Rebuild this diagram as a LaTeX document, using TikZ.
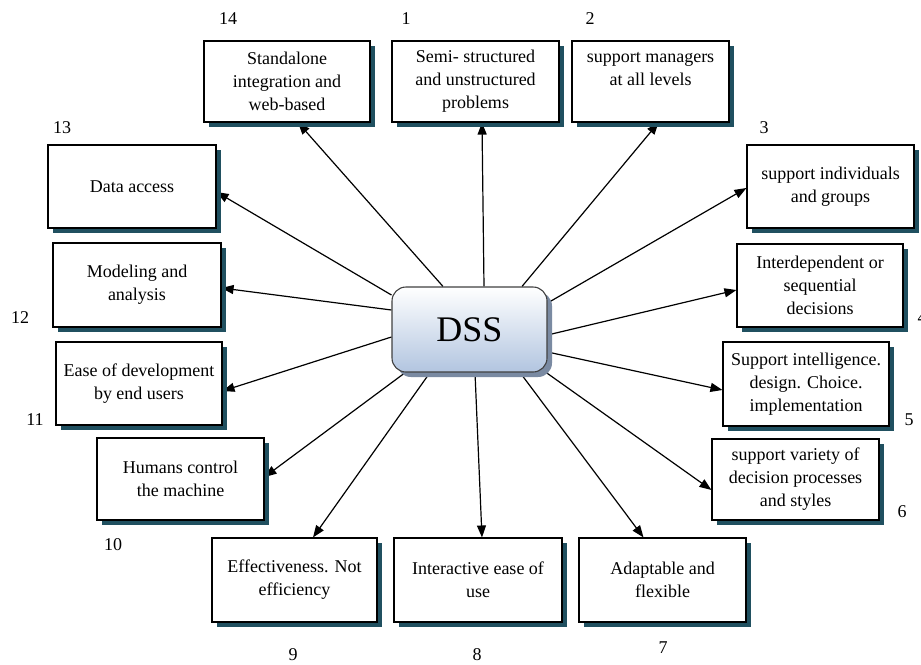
\documentclass[tikz,border=0pt]{standalone}
\usepackage{fontspec}
\setmainfont{Liberation Serif}
\usetikzlibrary{arrows.meta,shadows}
\definecolor{shadowteal}{RGB}{32,80,96}
\definecolor{dssblue}{RGB}{178,197,224}
\definecolor{dssshadow}{RGB}{122,138,162}
\pgfdeclarelayer{background}
\pgfsetlayers{background,main}
\tikzset{
  featbox/.style={draw=black, line width=1.1pt, fill=white, align=center,
    inner sep=2pt, font=\fontsize{18pt}{23pt}\selectfont,
    drop shadow={shadow xshift=5pt, shadow yshift=-5pt, fill=shadowteal, opacity=1}},
  numlabel/.style={font=\fontsize{18pt}{20pt}\selectfont, inner sep=0pt},
  hub/.style={draw=black!75, line width=1.1pt, rounded corners=14pt,
    top color=white, bottom color=dssblue,
    minimum width=155pt, minimum height=85pt,
    font=\fontsize{36pt}{40pt}\selectfont,
    drop shadow={shadow xshift=5pt, shadow yshift=-5pt, fill=dssshadow, opacity=1}},
  link/.style={line width=1.2pt, -{Triangle[length=12pt,width=9pt]}}
}
\begin{document}
\begin{tikzpicture}[x=1pt,y=-1pt]
\useasboundingbox (0,0) rectangle (921,664);

% central hub
\node[hub] (dss) at (469.5,329.5) {DSS};

% characteristic boxes
\node[featbox, minimum width=166pt, minimum height=81pt] (b14) at (287,81.5)
  {Standalone\\integration and\\web-based};
\node[featbox, minimum width=167pt, minimum height=81pt] (b1) at (475.5,81.5)
  {Semi- structured\\and unstructured\\problems};
\node[featbox, minimum width=157pt, minimum height=81pt] (b2) at (650.5,81.5)
  {support managers\\at all levels\\[2pt]};
\node[featbox, minimum width=167pt, minimum height=83pt] (b3) at (830.5,186.5)
  {support individuals\\and groups};
\node[featbox, minimum width=166pt, minimum height=83pt] (b4) at (820,285.5)
  {Interdependent or\\sequential\\decisions};
\node[featbox, minimum width=166pt, minimum height=84pt] (b5) at (806,384)
  {Support intelligence.\\design. Choice.\\implementation};
\node[featbox, minimum width=167pt, minimum height=81pt] (b6) at (795.5,479.5)
  {support variety of\\decision processes\\and styles};
\node[featbox, minimum width=167pt, minimum height=84pt] (b7) at (662.5,580)
  {Adaptable and\\flexible};
\node[featbox, minimum width=168pt, minimum height=84pt] (b8) at (478,580)
  {Interactive ease of\\use};
\node[featbox, minimum width=165pt, minimum height=84pt] (b9) at (294.5,580)
  {Effectiveness. Not\\efficiency};
\node[featbox, minimum width=167pt, minimum height=82pt] (b10) at (180.5,479)
  {Humans control\\the machine};
\node[featbox, minimum width=166pt, minimum height=83pt] (b11) at (139,383.5)
  {Ease of development\\by end users};
\node[featbox, minimum width=168pt, minimum height=84pt] (b12) at (137,285)
  {Modeling and\\analysis};
\node[featbox, minimum width=168pt, minimum height=83pt] (b13) at (132,186.5)
  {Data access};

% numbering
\node[numlabel] (n14) at (228,19) {14};
\node[numlabel] (n1) at (406,19) {1};
\node[numlabel] (n2) at (590,19) {2};
\node[numlabel] (n3) at (764,128) {3};
\node[numlabel] (n13) at (62,128) {13};
\node[numlabel] (n12) at (20,318) {12};
\node[numlabel] (n4) at (922,318) {4};
\node[numlabel] (n11) at (35,420) {11};
\node[numlabel] (n5) at (909,420) {5};
\node[numlabel] (n10) at (113,545) {10};
\node[numlabel] (n6) at (902,512) {6};
\node[numlabel] (n9) at (293,655) {9};
\node[numlabel] (n8) at (477,655) {8};
\node[numlabel] (n7) at (663,648) {7};

% connectors from the hub
\begin{pgfonlayer}{background}
\draw[link] ([xshift=-26.5pt]dss.north) -- ([xshift=11pt]b14.south);
\draw[link] ([xshift=14.5pt]dss.north) -- ([xshift=6.5pt]b1.south);
\draw[link] ([xshift=52.5pt]dss.north) -- ([xshift=8pt]b2.south);
\draw[link] ([yshift=26.5pt]dss.east) -- ([yshift=-1.5pt]b3.west);
\draw[link] ([yshift=-5.5pt]dss.east) -- ([yshift=-4.5pt]b4.west);
\draw[link] ([yshift=-22.5pt]dss.east) -- ([yshift=-6pt]b5.west);
\draw[link] ([xshift=-7pt,yshift=4pt]dss.south east) -- ([yshift=-10.5pt]b6.west);
\draw[link] ([xshift=50.5pt]dss.south) -- ([xshift=-19pt]b7.north);
\draw[link] ([xshift=5.5pt]dss.south) -- ([xshift=4pt]b8.north);
\draw[link] ([xshift=-39.5pt]dss.south) -- ([xshift=18.5pt]b9.north);
\draw[link] ([xshift=-61.5pt,yshift=2pt]dss.south) -- ([yshift=2pt]b10.east);
\draw[link] ([yshift=-7.5pt]dss.west) -- ([yshift=-7.5pt]b11.east);
\draw[link] ([yshift=19.5pt]dss.west) -- ([yshift=-3pt]b12.east);
\draw[link] ([yshift=34.5pt]dss.west) -- ([yshift=-5.5pt]b13.east);
\end{pgfonlayer}
\end{tikzpicture}
\end{document}
